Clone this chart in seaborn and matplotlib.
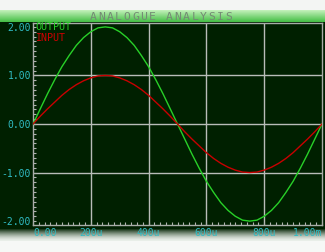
import numpy as np
import pandas as pd
import matplotlib
matplotlib.use("Agg")
import matplotlib.pyplot as plt
import seaborn as sns

# ---- data ----
time_us = [0, 25, 50, 75, 100, 125, 150, 175, 200, 225, 250, 275, 300, 325, 350, 375, 400,
           425, 450, 475, 500, 525, 550, 575, 600, 625, 650, 675, 700, 725, 750, 775, 800,
           825, 850, 875, 900, 925, 950, 975, 1000]
input_v = [0.00, 0.16, 0.31, 0.45, 0.59, 0.71, 0.81, 0.89, 0.95, 0.99, 1.00, 0.99, 0.95,
           0.89, 0.81, 0.71, 0.59, 0.45, 0.31, 0.16, 0.00, -0.16, -0.31, -0.45, -0.59,
           -0.71, -0.81, -0.89, -0.95, -0.99, -1.00, -0.99, -0.95, -0.89, -0.81, -0.71,
           -0.59, -0.45, -0.31, -0.16, 0.00]
output_v = [0.00, 0.31, 0.62, 0.91, 1.18, 1.41, 1.62, 1.78, 1.90, 1.98, 2.00, 1.98, 1.90,
            1.78, 1.62, 1.41, 1.18, 0.91, 0.62, 0.31, 0.00, -0.31, -0.62, -0.91, -1.18,
            -1.41, -1.62, -1.78, -1.90, -1.98, -2.00, -1.98, -1.90, -1.78, -1.62, -1.41,
            -1.18, -0.91, -0.62, -0.31, 0.00]
series_names = ["OUTPUT", "INPUT"]
x_tick_vals = [0, 200, 400, 600, 800, 1000]
x_tick_labels = ["0.00", "200u", "400u", "600u", "800u", "1.00m"]
y_tick_vals = [-2, -1, 0, 1, 2]
y_tick_labels = ["-2.00", "-1.00", "0.00", "1.00", "2.00"]
title_text = "ANALOGUE ANALYSIS"

W, H = 325, 252
fig = plt.figure(figsize=(W / 100, H / 100), dpi=100)
fig.patch.set_facecolor("white")

# ---- background panel ----
def hexrgb(h):
    h = h.lstrip("#")
    return np.array([int(h[i:i + 2], 16) / 255 for i in (0, 2, 4)])

img = np.ones((H, W, 3))
img[0:10] = hexrgb("#f3f5f3")
top, bot = hexrgb("#c0f0b8"), hexrgb("#48c048")
for r in range(10, 22):
    f = (r - 10) / 11
    img[r] = top * (1 - f) + bot * f
dark = hexrgb("#002000")
img[22:228] = dark
end = hexrgb("#e8eee8")
for r in range(228, 241):
    f = (r - 228) / 12
    img[r] = dark * (1 - f) ** 1.5 + end * (1 - (1 - f) ** 1.5)
img[241:] = hexrgb("#f6f8f6")

bg = fig.add_axes([0, 0, 1, 1], zorder=-5)
bg.imshow(img, aspect="auto", interpolation="nearest")
bg.axis("off")

# ---- main axes ----
ax = fig.add_axes([33 / W, 1 - 225 / H, (322 - 33) / W, (225 - 23) / H])
ax.set_facecolor("#002000")

df = pd.DataFrame({
    "t": time_us * 2,
    "v": output_v + input_v,
    "s": [series_names[0]] * len(time_us) + [series_names[1]] * len(time_us),
})
sns.lineplot(data=df, x="t", y="v", hue="s", palette={"OUTPUT": "#28d028", "INPUT": "#c80000"},
             linewidth=1.0, legend=False, ax=ax, zorder=3, estimator=None, sort=False)

ax.set_xlim(0, 1000)
ax.set_ylim(-2.08, 2.08)
ax.set_xlabel("")
ax.set_ylabel("")

grid_c = "#b8bcb8"
for x in [200, 400, 600, 800]:
    ax.axvline(x, color=grid_c, lw=1.0, zorder=1)
for y in [-1, 0, 1]:
    ax.axhline(y, color=grid_c, lw=1.0, zorder=1)

for sp in ax.spines.values():
    sp.set_color("#a8aca8")
    sp.set_linewidth(1.0)

ax.set_xticks(x_tick_vals)
ax.set_xticklabels(x_tick_labels)
ax.set_yticks(y_tick_vals)
ax.set_yticklabels(y_tick_labels)
ax.set_xticks(np.arange(0, 1001, 20), minor=True)
ax.set_yticks(np.arange(-2.0, 2.01, 0.1), minor=True)
lab_c = "#30bcc4"
ax.tick_params(which="both", direction="in", color="#b0b4b0", length=2.5, width=0.8)
ax.tick_params(axis="x", which="major", pad=2, labelsize=7, labelcolor=lab_c)
ax.tick_params(axis="y", which="major", pad=1.5, labelsize=7, labelcolor=lab_c)
ax.tick_params(top=False, right=False, which="both")
for lab in ax.get_xticklabels() + ax.get_yticklabels():
    lab.set_family("DejaVu Sans Mono")
xl = ax.get_xticklabels()
xl[0].set_ha("left")
xl[-1].set_ha("right")

# legend texts
ax.text(8, 1.99, series_names[0], color="#28d028", fontsize=7.2, family="DejaVu Sans Mono",
        ha="left", va="center", zorder=4)
ax.text(8, 1.77, series_names[1], color="#d00000", fontsize=7.2, family="DejaVu Sans Mono",
        ha="left", va="center", zorder=4)

# title, letter-spaced
x0 = 90
step = 142 / (len(title_text) - 0.3)
for i, ch in enumerate(title_text):
    fig.text((x0 + i * step + 3) / W, 1 - 16.5 / H, ch, color="#748a74", fontsize=8.2,
             family="DejaVu Sans Mono", ha="center", va="center")

fig.savefig("out.png", dpi=100)
